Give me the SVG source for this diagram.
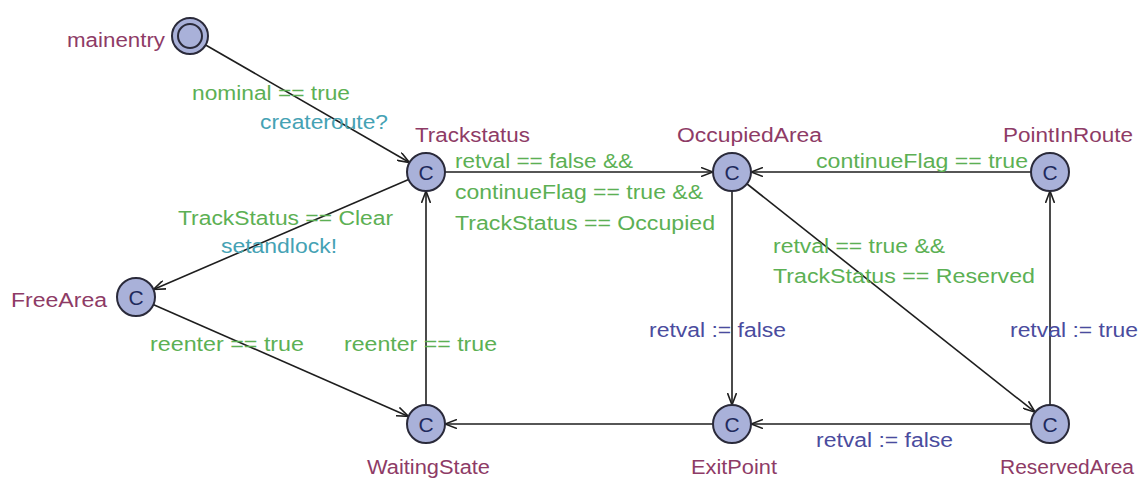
<svg xmlns="http://www.w3.org/2000/svg" width="1146" height="480" viewBox="0 0 1146 480">
<style>
text{font-family:"Liberation Sans",Arial,sans-serif;font-size:20px}
.loc{fill:#8e3b66}
.g{fill:#5cb054}
.s{fill:#45a2b4}
.a{fill:#4a4c9e}
.c{fill:#1f2a5c;font-size:21px;text-anchor:middle}
.n{fill:#a9b1d9;stroke:#2a2a3a;stroke-width:2}
.e{stroke:#1e1e1e;stroke-width:1.6;fill:none;marker-end:url(#arr)}
</style>
<defs>
<marker id="arr" viewBox="0 0 12 10" refX="12" refY="5" markerWidth="12" markerHeight="10" markerUnits="userSpaceOnUse" orient="auto">
<path d="M0,0.5 L12,5 L0,9.5" fill="none" stroke="#1e1e1e" stroke-width="1.6"/>
</marker>
</defs>
<rect width="1146" height="480" fill="#ffffff"/>
<g id="connectors">
<line class="e" x1="190" y1="36" x2="409.5" y2="162.5"/>
<line class="e" x1="426" y1="172" x2="713" y2="172"/>
<line class="e" x1="1050" y1="172" x2="751" y2="172"/>
<line class="e" x1="732" y1="172" x2="732" y2="405"/>
<line class="e" x1="732" y1="172" x2="1035.1" y2="412.2"/>
<line class="e" x1="1050" y1="424" x2="1050" y2="191"/>
<line class="e" x1="1050" y1="424" x2="751" y2="424"/>
<line class="e" x1="732" y1="424" x2="445" y2="424"/>
<line class="e" x1="426" y1="424" x2="426" y2="191"/>
<line class="e" x1="426" y1="172" x2="153.4" y2="289.5"/>
<line class="e" x1="136" y1="297" x2="408.6" y2="416.4"/>
</g>
<g id="labels">
<text class="g" x="192" y="100" textLength="158" lengthAdjust="spacingAndGlyphs">nominal == true</text>
<text class="s" x="260" y="129" textLength="128" lengthAdjust="spacingAndGlyphs">createroute?</text>
<text class="g" x="455" y="168" textLength="178" lengthAdjust="spacingAndGlyphs">retval == false &amp;&amp;</text>
<text class="g" x="455" y="199" textLength="248" lengthAdjust="spacingAndGlyphs">continueFlag == true &amp;&amp;</text>
<text class="g" x="455" y="230" textLength="260" lengthAdjust="spacingAndGlyphs">TrackStatus == Occupied</text>
<text class="g" x="816" y="168" textLength="212" lengthAdjust="spacingAndGlyphs">continueFlag == true</text>
<text class="g" x="178" y="225" textLength="215" lengthAdjust="spacingAndGlyphs">TrackStatus == Clear</text>
<text class="s" x="221" y="253" textLength="116" lengthAdjust="spacingAndGlyphs">setandlock!</text>
<text class="g" x="773" y="253" textLength="172" lengthAdjust="spacingAndGlyphs">retval == true &amp;&amp;</text>
<text class="g" x="773" y="283" textLength="262" lengthAdjust="spacingAndGlyphs">TrackStatus == Reserved</text>
<text class="g" x="150" y="351" textLength="154" lengthAdjust="spacingAndGlyphs">reenter == true</text>
<text class="g" x="344" y="351" textLength="153" lengthAdjust="spacingAndGlyphs">reenter == true</text>
<text class="a" x="649" y="337" textLength="137" lengthAdjust="spacingAndGlyphs">retval := false</text>
<text class="a" x="1010" y="337" textLength="128" lengthAdjust="spacingAndGlyphs">retval := true</text>
<text class="a" x="816" y="447" textLength="137" lengthAdjust="spacingAndGlyphs">retval := false</text>
</g>
<g id="mainentry">
<circle class="n" cx="190" cy="36" r="18"/>
<circle class="n" cx="190" cy="36" r="12"/>
<text class="loc" x="67" y="47" textLength="98" lengthAdjust="spacingAndGlyphs">mainentry</text>
</g>
<g id="Trackstatus">
<circle class="n" cx="426" cy="172" r="19"/>
<text class="c" x="426" y="179.5">C</text>
<text class="loc" x="415" y="142" textLength="115" lengthAdjust="spacingAndGlyphs">Trackstatus</text>
</g>
<g id="OccupiedArea">
<circle class="n" cx="732" cy="172" r="19"/>
<text class="c" x="732" y="179.5">C</text>
<text class="loc" x="677" y="142" textLength="145" lengthAdjust="spacingAndGlyphs">OccupiedArea</text>
</g>
<g id="PointInRoute">
<circle class="n" cx="1050" cy="172" r="19"/>
<text class="c" x="1050" y="179.5">C</text>
<text class="loc" x="1003" y="142" textLength="130" lengthAdjust="spacingAndGlyphs">PointInRoute</text>
</g>
<g id="FreeArea">
<circle class="n" cx="136" cy="297" r="19"/>
<text class="c" x="136" y="304.5">C</text>
<text class="loc" x="11" y="307" textLength="96" lengthAdjust="spacingAndGlyphs">FreeArea</text>
</g>
<g id="WaitingState">
<circle class="n" cx="426" cy="424" r="19"/>
<text class="c" x="426" y="431.5">C</text>
<text class="loc" x="367" y="474" textLength="123" lengthAdjust="spacingAndGlyphs">WaitingState</text>
</g>
<g id="ExitPoint">
<circle class="n" cx="732" cy="424" r="19"/>
<text class="c" x="732" y="431.5">C</text>
<text class="loc" x="691" y="474" textLength="86" lengthAdjust="spacingAndGlyphs">ExitPoint</text>
</g>
<g id="ReservedArea">
<circle class="n" cx="1050" cy="424" r="19"/>
<text class="c" x="1050" y="431.5">C</text>
<text class="loc" x="1000" y="474" textLength="134" lengthAdjust="spacingAndGlyphs">ReservedArea</text>
</g>
</svg>
